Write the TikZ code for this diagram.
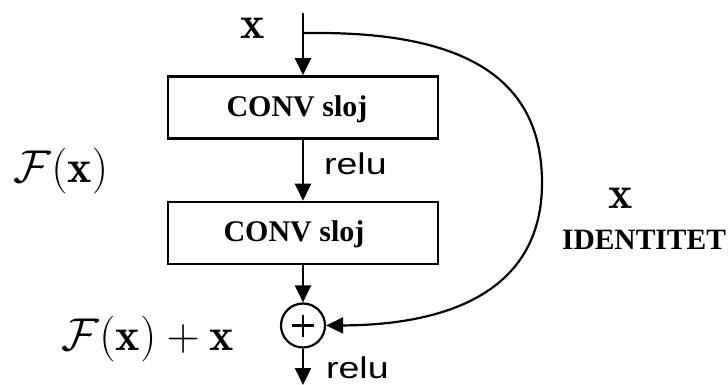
\RequirePackage{fix-cm}
\documentclass[tikz,border=0pt]{standalone}
\usepackage{fontspec}
\newfontfamily\serifb{Liberation Serif}
\newfontfamily\sansf{Liberation Sans}
\usetikzlibrary{arrows.meta}
\begin{document}
\begin{tikzpicture}[x=1pt,y=-1pt,
  line width=2.2pt,
  arr/.style={-{Triangle[length=17pt,width=16pt]}},
  blk/.style={draw, line width=2.6pt, minimum width=270pt, minimum height=62pt, inner sep=0pt},
  conv/.style={font=\serifb\bfseries\fontsize{30}{32}\selectfont, inner sep=0pt},
  mth/.style={font=\fontsize{46}{50}\selectfont, inner sep=0pt},
  rl/.style={font=\sansf\fontsize{30}{32}\selectfont, inner sep=0pt, anchor=base west},
  idt/.style={font=\serifb\bfseries\fontsize{29.5}{32}\selectfont, inner sep=0pt}]
\useasboundingbox (0,0) rectangle (728,385);
\coordinate (in) at (303,13);
\coordinate (split) at (303,33);
\coordinate (out) at (303,385);
\node[blk] (b1) at (303,107.5) {};
\node[conv] (t1) at (297,109) {CONV sloj};
\node[blk] (b2) at (303,233) {};
\node[conv] (t2) at (294,234) {CONV sloj};
\node[draw,circle,minimum size=44pt,inner sep=0pt] (sum) at (303,325.5) {};
\draw ([xshift=-11pt]sum.center) -- ([xshift=11pt]sum.center);
\draw ([yshift=-11pt]sum.center) -- ([yshift=11pt]sum.center);
\draw[arr] (in) -- (b1.north);
\draw[arr] (b1.south) -- (b2.north);
\draw[arr] (b2.south) -- (sum.north);
\draw[arr] (sum.south) -- (out);
\draw[arr] (split) -- (318,33) .. controls (475,33) and (542,85) .. (542,183) .. controls (542,290) and (450,325) .. (sum.east);
\node[mth] (xin) at (253,28) {$\mathbf{x}$};
\node[mth] (fx) at (61,171) {$\mathcal{F}(\mathbf{x})$};
\node[mth] (fxx) at (148,338.5) {$\mathcal{F}(\mathbf{x})+\mathbf{x}$};
\node[mth] (xid) at (621,198) {$\mathbf{x}$};
\node[idt] (idtxt) at (644,240) {IDENTITET};
\node[rl] (r1) at (323,175) {\scalebox{1.25}[1]{relu}};
\node[rl] (r2) at (325,378) {\scalebox{1.25}[1]{relu}};
\end{tikzpicture}
\end{document}
